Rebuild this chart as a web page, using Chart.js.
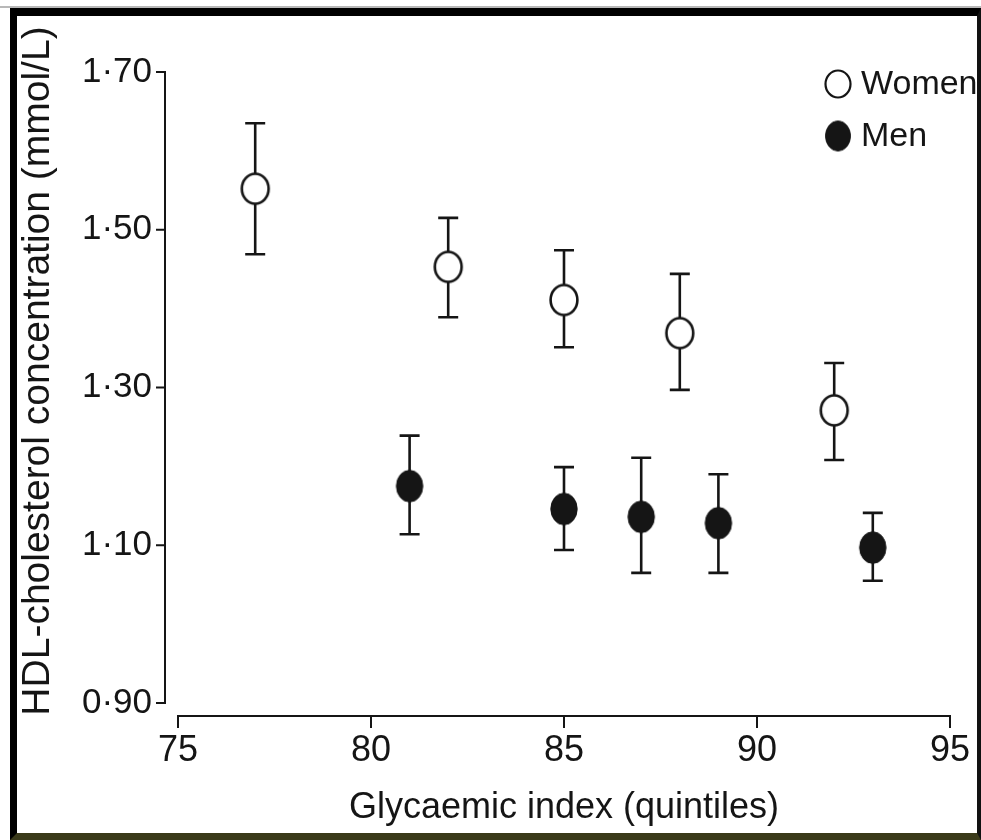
<!DOCTYPE html>
<html><head><meta charset="utf-8">
<script src="https://cdn.jsdelivr.net/npm/chart.js@4/dist/chart.umd.min.js"></script>
<style>
html,body{margin:0;padding:0;background:#fff;}
#topline{position:absolute;left:0;top:6px;width:981px;height:2px;background:#b8b8b8;}
#frame{position:absolute;left:10px;top:8px;width:960px;height:817px;border-style:solid;border-color:#000 #111 #3a3a1a #000;border-width:8px 4px 7px 7px;background:#fff;}
canvas{display:block;}
</style></head><body>
<div id="topline"></div>
<div id="frame"><canvas id="c" width="960" height="817" style="width:960px;height:817px"></canvas></div>
<script>
// ---- data ----
const seriesNames = ['Women', 'Men'];
const womenGI   = [77, 82, 85, 88, 92];
const womenHDL  = [1.552, 1.453, 1.411, 1.369, 1.271];
const womenLow  = [1.469, 1.389, 1.351, 1.297, 1.208];
const womenHigh = [1.635, 1.515, 1.474, 1.444, 1.331];
const menGI   = [81, 85, 87, 89, 93];
const menHDL  = [1.175, 1.146, 1.136, 1.128, 1.097];
const menLow  = [1.114, 1.094, 1.065, 1.065, 1.055];
const menHigh = [1.239, 1.199, 1.211, 1.190, 1.141];
const xTicks = [75, 80, 85, 90, 95];
const yTicks = [0.90, 1.10, 1.30, 1.50, 1.70];
const xTitle = 'Glycaemic index (quintiles)';
const yTitle = 'HDL-cholesterol concentration (mmol/L)';

const FONT = '"Liberation Sans", Arial, Helvetica, sans-serif';
const INK = '#151515';

function ellipseMarker(fill, rx, ry, lw) {
  const c = document.createElement('canvas');
  const w = Math.ceil(2 * rx + lw + 2), h = Math.ceil(2 * ry + lw + 2);
  c.width = w; c.height = h;
  const g = c.getContext('2d');
  g.beginPath(); g.ellipse(w / 2, h / 2, rx, ry, 0, 0, Math.PI * 2);
  g.fillStyle = fill; g.fill();
  g.lineWidth = lw; g.strokeStyle = INK; g.stroke();
  return c;
}
const womenMarker = ellipseMarker('#ffffff', 13.4, 15, 2.6);
const menMarker = ellipseMarker(INK, 13.2, 15.8, 1);
const womenLegendMarker = ellipseMarker('#ffffff', 12.5, 13.5, 2.2);
const menLegendMarker = ellipseMarker(INK, 12.5, 15, 1);

function pts(xs, ys, lo, hi) { return xs.map((x, i) => ({ x: x, y: ys[i], lo: lo[i], hi: hi[i] })); }

const errorBars = {
  id: 'errorBars',
  beforeDatasetsDraw(chart) {
    const { ctx, scales: { x, y } } = chart;
    ctx.save(); ctx.strokeStyle = INK; ctx.lineWidth = 2.6; ctx.lineCap = 'butt';
    chart.data.datasets.forEach(ds => {
      ds.data.forEach(p => {
        const px = x.getPixelForValue(p.x), plo = y.getPixelForValue(p.lo), phi = y.getPixelForValue(p.hi);
        ctx.beginPath();
        ctx.moveTo(px, phi); ctx.lineTo(px, plo);
        ctx.moveTo(px - 10, phi); ctx.lineTo(px + 10, phi);
        ctx.moveTo(px - 10, plo); ctx.lineTo(px + 10, plo);
        ctx.stroke();
      });
    });
    ctx.restore();
  }
};

const axesAndLegend = {
  id: 'axesAndLegend',
  afterDraw(chart) {
    const { ctx, scales: { x, y }, chartArea: a } = chart;
    ctx.save();
    ctx.strokeStyle = INK; ctx.lineWidth = 2; ctx.lineCap = 'square';
    // y axis (offset to the left)
    const ax = a.left - 13;
    ctx.beginPath();
    ctx.moveTo(ax, y.getPixelForValue(yTicks[0]));
    ctx.lineTo(ax, y.getPixelForValue(yTicks[yTicks.length - 1]));
    yTicks.forEach(t => { const py = y.getPixelForValue(t); ctx.moveTo(ax - 8, py); ctx.lineTo(ax, py); });
    // x axis (offset below)
    const ay = a.bottom + 13;
    ctx.moveTo(x.getPixelForValue(xTicks[0]), ay);
    ctx.lineTo(x.getPixelForValue(xTicks[xTicks.length - 1]), ay);
    xTicks.forEach(t => { const px = x.getPixelForValue(t); ctx.moveTo(px, ay); ctx.lineTo(px, ay + 11); });
    ctx.stroke();
    // y title
    ctx.fillStyle = INK;
    ctx.font = '39px ' + FONT;
    ctx.textAlign = 'center'; ctx.textBaseline = 'middle';
    ctx.translate(21, 355); ctx.rotate(-Math.PI / 2);
    ctx.fillText(yTitle, 0, 0);
    ctx.setTransform(1, 0, 0, 1, 0, 0);
    // legend
    const markers = [womenLegendMarker, menLegendMarker];
    const lx = 821, ly0 = 68, dy = 52;
    ctx.font = '34px ' + FONT; ctx.textAlign = 'left'; ctx.textBaseline = 'middle';
    chart.data.datasets.forEach((ds, i) => {
      const m = markers[i];
      const cy = ly0 + i * dy;
      ctx.drawImage(m, lx - m.width / 2, cy - m.height / 2);
      ctx.fillText(ds.label, 844, cy + 1);
    });
    ctx.restore();
  }
};

new Chart(document.getElementById('c'), {
  type: 'scatter',
  data: {
    datasets: [
      { label: seriesNames[0], data: pts(womenGI, womenHDL, womenLow, womenHigh), pointStyle: womenMarker, pointRadius: 14, pointHoverRadius: 14, showLine: false },
      { label: seriesNames[1], data: pts(menGI, menHDL, menLow, menHigh), pointStyle: menMarker, pointRadius: 14, pointHoverRadius: 14, showLine: false }
    ]
  },
  options: {
    responsive: false,
    animation: false,
    events: [],
    layout: { padding: { left: 0, top: 56, right: 27, bottom: 0 } },
    plugins: { legend: { display: false }, tooltip: { enabled: false } },
    scales: {
      x: {
        type: 'linear', min: xTicks[0], max: xTicks[xTicks.length - 1],
        grid: { display: false }, border: { display: false },
        afterBuildTicks: s => { s.ticks = xTicks.map(v => ({ value: v })); },
        afterFit: s => { s.height = 130; s.paddingLeft = 0; s.paddingRight = 0; },
        ticks: { color: INK, font: { family: FONT, size: 36 }, padding: 18, maxRotation: 0, callback: v => String(v) },
        title: { display: true, text: xTitle, color: INK, font: { family: FONT, size: 36 }, padding: { top: 0, bottom: 3 } }
      },
      y: {
        type: 'linear', min: yTicks[0], max: yTicks[yTicks.length - 1],
        grid: { display: false }, border: { display: false },
        afterBuildTicks: s => { s.ticks = yTicks.map(v => ({ value: v })); },
        afterFit: s => { s.width = 161; s.paddingTop = 0; s.paddingBottom = 0; },
        ticks: { color: INK, font: { family: FONT, size: 35 }, padding: 18, callback: v => v.toFixed(2).replace('.', '\u00B7') }
      }
    }
  },
  plugins: [errorBars, axesAndLegend]
});
</script>
</body></html>
